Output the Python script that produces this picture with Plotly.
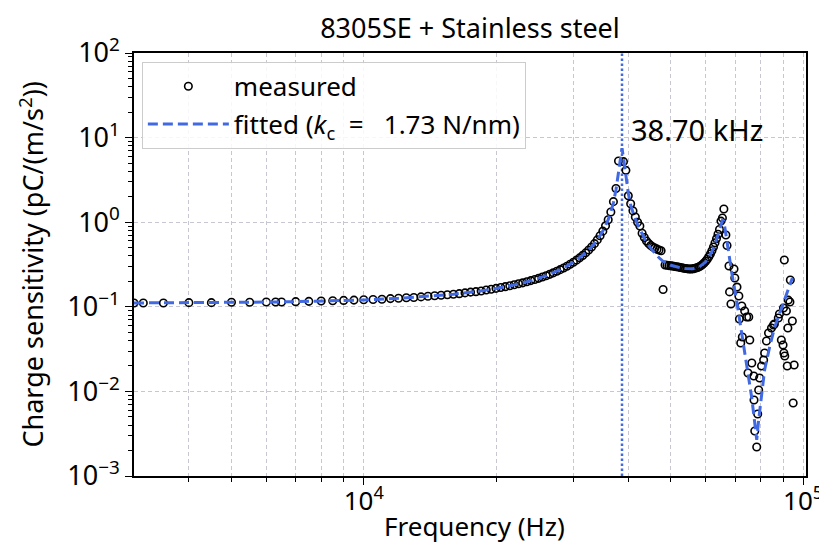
import math
import plotly.graph_objects as go

# ---------------- data ----------------
meas_freq_hz = [
    3000, 3150, 3500, 4000, 4500, 5000, 5500, 6000, 6300, 6500, 7000, 7500, 8000, 8500, 9000, 9500,
    10000, 10500, 11000, 11500, 12000, 12500, 13000, 13500, 14000, 14500, 15000, 15500, 16000, 16500,
    17000, 17500, 18000, 18500, 19000, 19500, 20000, 20500, 21000, 21500, 22000, 22500, 23000, 23500,
    24000, 24500, 25000, 25500, 26000, 26500, 27000, 27500, 28000, 28500, 29000, 29500, 30000, 30500,
    31000, 31500, 32000, 32500, 33000, 33500, 34000, 34500, 35000, 35500, 36000, 36500, 37000, 37500,
    38000, 39000, 39500, 40000, 40500, 41000, 41500, 42000, 42500, 43000, 43500, 44000, 44500, 45000,
    45500, 46000, 46500, 47000, 47500, 48000, 48500, 49000, 49500, 50000, 50500, 51000, 51500, 52000,
    52500, 53000, 53500, 54000, 54500, 55000, 55500, 56000, 56500, 57000, 57500, 58000, 58500, 59000,
    59500, 60000, 60500, 61000, 61500, 62000, 62500, 63000, 63500, 64000, 64500,
    65000, 65500, 66000, 66700, 67100, 67800, 68000, 68500, 69600, 69900, 70700, 71400, 71600, 72100,
    72500, 72700, 73600, 74400, 74900, 75200, 75600, 76400, 77200, 77300, 77600, 78400, 78800, 79200,
    79600, 80400, 81300, 81700, 82500, 83400, 84700, 85600, 86000, 87800, 88300, 89200, 90000, 90200,
    90400, 90600, 90800, 91600, 92000, 92300, 92500, 93300, 93500, 94500, 94900, 95400,
]
meas_sens = [
    0.111, 0.111, 0.111, 0.112, 0.112, 0.113, 0.113, 0.114, 0.114, 0.114, 0.115, 0.116, 0.117, 0.118, 0.119, 0.120,
    0.121, 0.122, 0.123, 0.125, 0.126, 0.128, 0.129, 0.131, 0.133, 0.135, 0.137, 0.139, 0.141, 0.143,
    0.146, 0.149, 0.151, 0.154, 0.158, 0.161, 0.165, 0.169, 0.173, 0.177, 0.182, 0.187, 0.192, 0.198,
    0.204, 0.210, 0.217, 0.225, 0.233, 0.242, 0.252, 0.263, 0.275, 0.288, 0.302, 0.318, 0.336, 0.356,
    0.379, 0.405, 0.434, 0.469, 0.510, 0.558, 0.618, 0.691, 0.784, 0.906, 1.07, 1.32, 1.75, 2.5,
    5.3, 5.2, 4.1, 2.05, 1.65, 1.36, 1.15, 1.0, 0.90, 0.74, 0.66, 0.60, 0.56, 0.53,
    0.51, 0.495, 0.48, 0.47, 0.46, 0.16, 0.312, 0.31, 0.307, 0.305, 0.303, 0.30, 0.298, 0.295,
    0.292, 0.289, 0.286, 0.284, 0.282, 0.280, 0.280, 0.281, 0.283, 0.287, 0.292, 0.298, 0.306, 0.316,
    0.33, 0.345, 0.365, 0.39, 0.42, 0.46, 0.51, 0.57, 0.64, 0.72, 0.82,
    1.03, 1.12, 1.43, 0.706, 0.53, 0.303, 0.150, 0.108, 0.280, 0.219, 0.171, 0.134, 0.0718, 0.0373,
    0.102, 0.044, 0.0891, 0.0757, 0.0165, 0.0757, 0.0405, 0.0217, 0.0152, 0.0079, 0.0034, 0.0022, 0.0054, 0.0104,
    0.0144, 0.0200, 0.0235, 0.0284, 0.0394, 0.0490, 0.0561, 0.0609, 0.0626, 0.0738, 0.0822, 0.0405, 0.0353, 0.0968,
    0.0284, 0.357, 0.0262, 0.0891, 0.0200, 0.0561, 0.120, 0.114, 0.207, 0.0679, 0.0073, 0.0205,
]

fit_freq_hz = [
    3000, 4000, 5000, 6000, 7000, 8000, 9000, 10000, 12000, 14000, 16000, 18000, 20000, 22000, 24000,
    26000, 28000, 30000, 31000, 32000, 33000, 34000, 35000, 36000, 36500, 37000, 37500, 38000, 38500,
    38700, 39000, 39500, 40000, 40500, 41000, 42000, 43000, 44000, 45000, 46000, 47000, 48000, 50000,
    52000, 54000, 56000, 58000, 60000, 61000, 62000, 63000, 64000, 65000, 65500, 66000, 67100, 68800,
    70700, 72500, 74400, 76400, 77600, 78400, 79200, 80400, 81700, 83800, 86000, 88300, 90600, 93000, 94500,
]
fit_sens = [
    0.111, 0.1116, 0.1125, 0.1137, 0.1151, 0.1167, 0.1186, 0.1207, 0.126, 0.1326, 0.1409, 0.1514, 0.1647, 0.1816, 0.2037,
    0.2334, 0.2748, 0.3359, 0.3786, 0.4343, 0.5097, 0.6175, 0.7839, 1.074, 1.318, 1.706, 2.417, 4.0, 6.5,
    7.5, 5.8, 3.3, 2.2, 1.6, 1.3, 0.93, 0.72, 0.58, 0.49, 0.425, 0.38, 0.345, 0.31,
    0.293, 0.283, 0.282, 0.296, 0.34, 0.385, 0.45, 0.55, 0.70, 0.92, 1.05, 1.03, 0.567, 0.251,
    0.111, 0.049, 0.020, 0.00835, 0.00423, 0.00267, 0.0046, 0.00957, 0.0179, 0.0326, 0.0561, 0.0822, 0.120, 0.176, 0.219,
]

resonance_hz = 38700
resonance_label = "38.70 kHz"
kc_value = "1.73"

x_major = [1e4, 1e5]
x_major_text = ["10<sup>4</sup>", "10<sup>5</sup>"]
x_minor = [4000, 5000, 6000, 7000, 8000, 9000, 20000, 30000, 40000, 50000, 60000, 70000, 80000, 90000]
y_major = [1e-3, 1e-2, 1e-1, 1e0, 1e1, 1e2]
y_major_text = ["10<sup>−3</sup>", "10<sup>−2</sup>", "10<sup>−1</sup>", "10<sup>0</sup>", "10<sup>1</sup>", "10<sup>2</sup>"]
y_minor = [m * 10.0 ** e for e in range(-3, 2) for m in range(2, 10)]

# ---------------- figure ----------------
FONT = "Noto Sans"
BLUE = "#4169E1"
GRID = "rgba(185,185,200,0.8)"
NB = "\u00a0"
W, H = 827, 546
ML, MR, MT, MB = 126, 22, 45, 78
PW, PH = W - ML - MR, H - MT - MB

fig = go.Figure()

fig.add_trace(go.Scatter(
    x=[resonance_hz, resonance_hz], y=[1e-3, 1e2], mode="lines",
    line=dict(color=BLUE, width=2.5, dash="2.5px,2.5px"),
    showlegend=False, hoverinfo="skip",
))

fig.add_trace(go.Scatter(
    x=meas_freq_hz, y=meas_sens, mode="markers", name="measured", legendgroup="a",
    marker=dict(symbol="circle-open", size=7.5, color="black", line=dict(width=1.6, color="black")),
))

fig.add_trace(go.Scatter(
    x=fit_freq_hz, y=fit_sens, mode="lines", legendgroup="b",
    name="fitted" + NB + "(<i>k</i><sub>c</sub>" + NB * 2 + "=" + NB * 3 + kc_value + " N/nm)",
    line=dict(color=BLUE, width=3, dash="10px,5px"),
))

fig.add_annotation(
    x=math.log10(resonance_hz), y=1, xref="x", yref="y",
    text=resonance_label, showarrow=False, xanchor="left", yanchor="middle",
    xshift=7, yshift=8, font=dict(family=FONT, size=29, color="black"),
)
# axis titles placed as annotations for exact positioning
fig.add_annotation(
    x=0.5, y=-(518 - (H - MB)) / PH, xref="paper", yref="paper", xshift=4,
    text="Frequency (Hz)", showarrow=False, xanchor="center", yanchor="middle",
    font=dict(family=FONT, size=26, color="black"),
)
fig.add_annotation(
    x=(22 - ML) / PW, y=0.5, xref="paper", yref="paper", textangle=-90,
    text="Charge sensitivity (pC/(m/s<sup>2</sup>))", showarrow=False,
    xanchor="center", yanchor="middle",
    font=dict(family=FONT, size=27, color="black"),
)

axis_common = dict(
    showline=True, linecolor="black", linewidth=1.5, mirror=True,
    ticks="outside", ticklen=7, tickwidth=1.3, tickcolor="black",
    showgrid=True, gridcolor=GRID, gridwidth=1, griddash="4px,3px",
    zeroline=False,
)

fig.update_xaxes(
    type="log", range=[math.log10(3000), math.log10(101500)],
    tickmode="array", tickvals=x_major, ticktext=x_major_text,
    tickfont=dict(family=FONT, size=26, color="black"), ticklabelstandoff=-6,
    minor=dict(tickmode="array", tickvals=x_minor, ticks="outside", ticklen=4, tickwidth=1,
               tickcolor="black", showgrid=True, gridcolor=GRID, gridwidth=1, griddash="4px,3px"),
    **axis_common,
)
fig.update_yaxes(
    type="log", range=[-3, 2],
    tickmode="array", tickvals=y_major, ticktext=y_major_text,
    tickfont=dict(family=FONT, size=27, color="black"),
    minor=dict(tickmode="array", tickvals=y_minor, ticks="outside", ticklen=4, tickwidth=1,
               tickcolor="black", showgrid=False),
    **axis_common,
)

fig.update_layout(
    width=W, height=H, autosize=False,
    margin=dict(l=ML, r=MR, t=MT, b=MB),
    paper_bgcolor="white", plot_bgcolor="white",
    font=dict(family=FONT, size=24, color="black"),
    title=dict(text="8305SE + Stainless steel", x=0.5, xref="paper", y=1 - 21 / H,
               yref="container", xanchor="center", yanchor="middle",
               font=dict(family=FONT, size=27, color="black")),
    legend=dict(x=0.0117, y=0.979, xanchor="left", yanchor="top", traceorder="grouped",
                tracegroupgap=1,
                bgcolor="rgba(255,255,255,0.85)", bordercolor="#cccccc", borderwidth=1,
                font=dict(family=FONT, size=26, color="black"), itemwidth=81),
    showlegend=True,
)

fig.write_html("out.html")
